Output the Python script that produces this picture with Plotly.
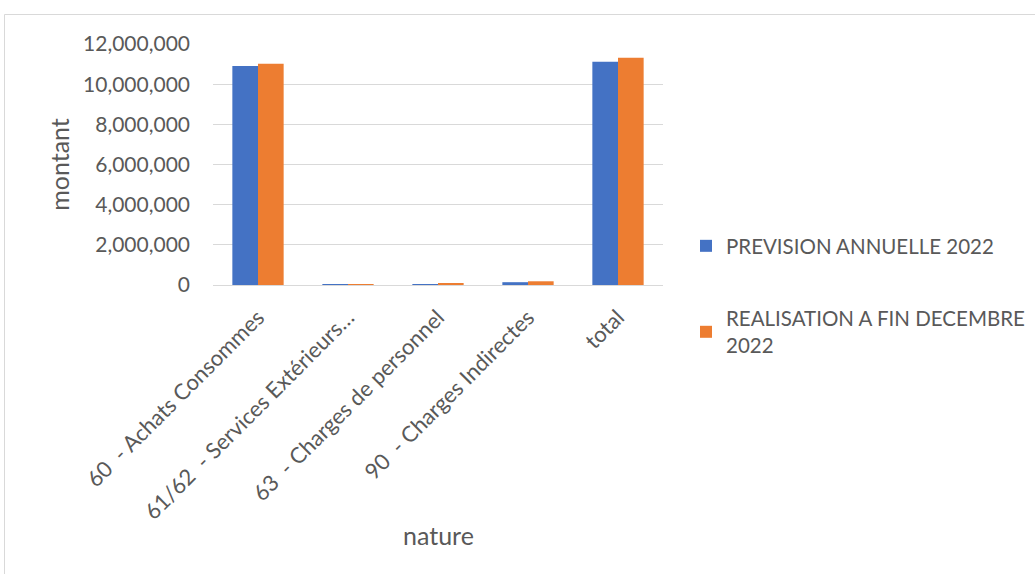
import plotly.graph_objects as go

categories = [
    "60  - Achats Consommes",
    "61/62  - Services Extérieurs…",
    "63  - Charges de personnel",
    "90  - Charges Indirectes",
    "total",
]
prevision = [10900000, 15000, 40000, 140000, 11110000]
realisation = [11020000, 10000, 85000, 185000, 11310000]

W, H = 1035, 574
L, R, T, B = 213, 663, 44, 285  # plot area in pixels

FONT = "Lato, Carlito, Calibri, sans-serif"
TXT = "#595959"
TICK = 21
CAT = 22
TITLE = 25

fig = go.Figure()
fig.add_bar(x=categories, y=prevision, name="PREVISION ANNUELLE 2022",
            marker_color="#4472C4", marker_line_width=0, legendgroup="a")
fig.add_bar(x=categories, y=realisation, name="REALISATION A FIN DECEMBRE<br>2022",
            marker_color="#ED7D31", marker_line_width=0, legendgroup="b")


def px(x):
    return (x - L) / (R - L)


def py(y):
    return (B - y) / (B - T)


fig.update_layout(
    width=W, height=H,
    margin=dict(l=L, r=W - R, t=T, b=H - B, pad=0, autoexpand=False),
    paper_bgcolor="white", plot_bgcolor="white",
    barmode="group", bargap=0.43, bargroupgap=0,
    font=dict(family=FONT, color=TXT, size=TICK),
    showlegend=True,
    legend=dict(x=px(686), y=py(226), xanchor="left", yanchor="top",
                font=dict(size=20.5, color=TXT), tracegroupgap=43,
                itemsizing="constant", bgcolor="rgba(0,0,0,0)"),
    xaxis=dict(tickangle=-45, showgrid=False, showline=True, linecolor="#d9d9d9",
               linewidth=1, ticks="", tickfont=dict(size=CAT, color=TXT),
               automargin=False, ticklabelstandoff=10),
    yaxis=dict(range=[0, 12000000], dtick=2000000, tickformat=",d",
               gridcolor="#d9d9d9", gridwidth=1, zeroline=False, showline=False,
               ticks="", ticklabelstandoff=22, tickfont=dict(size=TICK, color=TXT),
               automargin=False,
               title=dict(text="montant", font=dict(size=TITLE, color=TXT), standoff=6)),
    annotations=[dict(text="nature", xref="paper", yref="paper",
                      x=0.5, y=py(535), xanchor="center", yanchor="middle",
                      showarrow=False, font=dict(size=TITLE, color=TXT))],
    shapes=[dict(type="rect", xref="paper", yref="paper",
                 x0=px(4.5), x1=px(1040), y0=py(14.5), y1=py(590),
                 line=dict(color="#d9d9d9", width=1), fillcolor="rgba(0,0,0,0)",
                 layer="below")],
)

fig.write_html("out.html")
